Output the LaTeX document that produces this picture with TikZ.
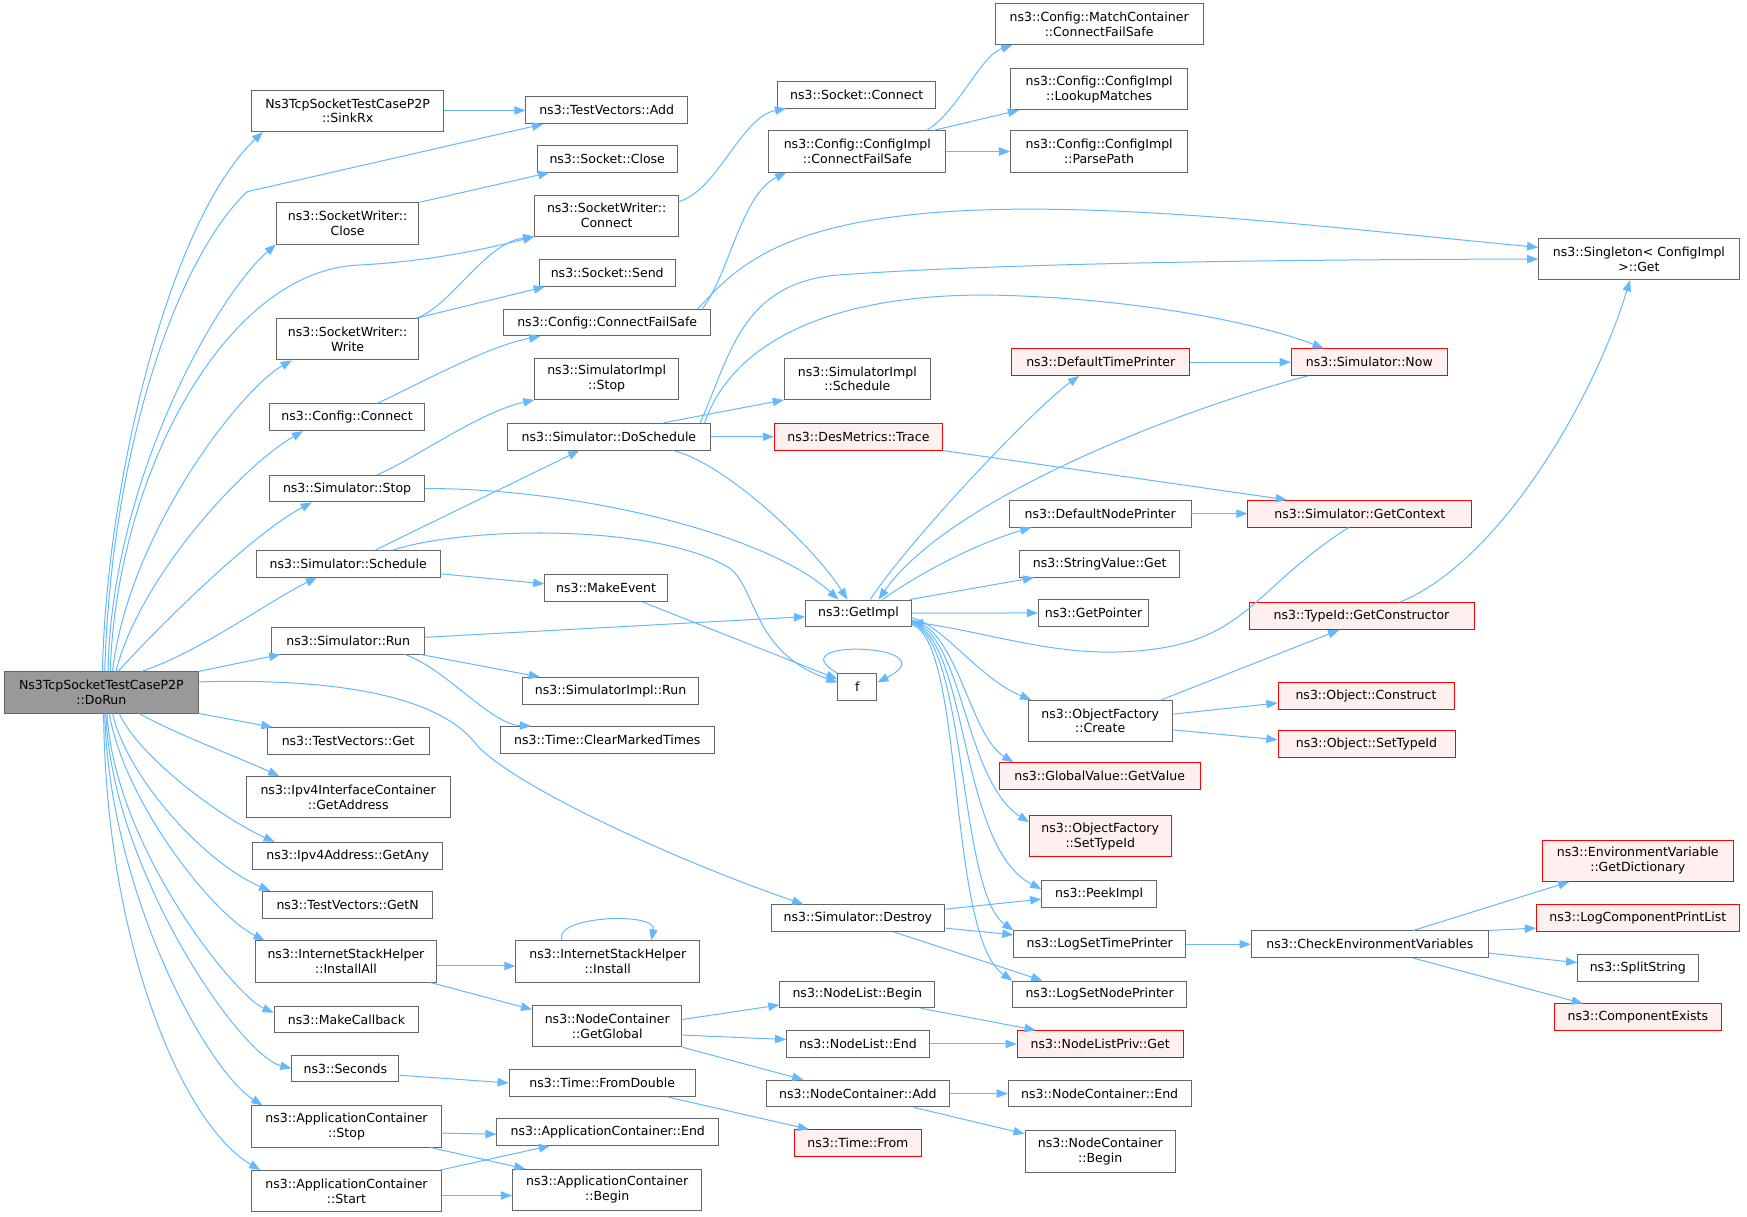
\documentclass[tikz,border=0pt]{standalone}
\usepackage{fontspec}
\setmainfont{DejaVu Sans}
\usetikzlibrary{arrows.meta}
\definecolor{edgeblue}{HTML}{63B8FF}
\definecolor{boxgray}{HTML}{666666}
\definecolor{rootgray}{HTML}{999999}
\definecolor{redfill}{HTML}{FFF0F0}
\tikzstyle{func} = [rectangle, draw=boxgray, fill=white, line width=0.8pt, inner xsep=3pt, inner ysep=0pt, minimum height=24, align=center, font=\fontsize{11.25}{13.3}\selectfont]
\tikzstyle{twoline} = [minimum height=37]
\tikzstyle{funcred} = [func, draw=red, fill=redfill]
\tikzstyle{root} = [func, fill=rootgray]
\tikzstyle{arrow} = [->, >={Triangle[length=10pt,width=7.5pt]}, draw=edgeblue, line width=0.9pt]
\begin{document}
\begin{tikzpicture}[x=1pt, y=-1pt]
    \useasboundingbox (0,0) rectangle (1568,1092);
    \node (doRun) [root, twoline, minimum width=174] at (91,621.5) {Ns3TcpSocketTestCaseP2P\\::DoRun};
    \node (sinkRx) [func, twoline, minimum width=172] at (312,99.5) {Ns3TcpSocketTestCaseP2P\\::SinkRx};
    \node (tvAdd) [func, minimum width=145] at (544.5,99) {ns3::TestVectors::Add};
    \node (swClose) [func, twoline, minimum width=128] at (312,200.5) {ns3::SocketWriter::\\Close};
    \node (sockClose) [func, minimum width=126] at (545,142.5) {ns3::Socket::Close};
    \node (swConnect) [func, twoline, minimum width=129] at (544.5,193.5) {ns3::SocketWriter::\\Connect};
    \node (sockSend) [func, minimum width=122] at (545,245) {ns3::Socket::Send};
    \node (swWrite) [func, twoline, minimum width=128] at (312,304.5) {ns3::SocketWriter::\\Write};
    \node (cfgCFS) [func, minimum width=186] at (545,289.5) {ns3::Config::ConnectFailSafe};
    \node (cfgConnect) [func, minimum width=139] at (311.5,374.5) {ns3::Config::Connect};
    \node (implStop) [func, twoline, minimum width=129] at (544.5,340) {ns3::SimulatorImpl\\::Stop};
    \node (simStop) [func, minimum width=139] at (311.5,438.5) {ns3::Simulator::Stop};
    \node (doSchedule) [func, minimum width=183] at (546.5,392) {ns3::Simulator::DoSchedule};
    \node (simSchedule) [func, minimum width=165] at (312.5,506) {ns3::Simulator::Schedule};
    \node (makeEvent) [func, minimum width=110] at (544,528) {ns3::MakeEvent};
    \node (simRun) [func, minimum width=137] at (312.5,575) {ns3::Simulator::Run};
    \node (implRun) [func, minimum width=158] at (548,620) {ns3::SimulatorImpl::Run};
    \node (clearTimes) [func, minimum width=192] at (545,664) {ns3::Time::ClearMarkedTimes};
    \node (tvGet) [func, minimum width=145] at (312.5,665) {ns3::TestVectors::Get};
    \node (ipv4Addr) [func, twoline, minimum width=183] at (312.5,715.5) {ns3::Ipv4InterfaceContainer\\::GetAddress};
    \node (getAny) [func, minimum width=170] at (312,768) {ns3::Ipv4Address::GetAny};
    \node (tvGetN) [func, minimum width=152] at (312,812) {ns3::TestVectors::GetN};
    \node (installAll) [func, twoline, minimum width=163] at (310.5,863) {ns3::InternetStackHelper\\::InstallAll};
    \node (makeCb) [func, minimum width=130] at (311,915) {ns3::MakeCallback};
    \node (seconds) [func, minimum width=96] at (310,959) {ns3::Seconds};
    \node (appStop) [func, twoline, minimum width=170] at (311,1011) {ns3::ApplicationContainer\\::Stop};
    \node (appStart) [func, twoline, minimum width=170] at (311,1069) {ns3::ApplicationContainer\\::Start};
    \node (install) [func, twoline, minimum width=165] at (545.5,863) {ns3::InternetStackHelper\\::Install};
    \node (getGlobal) [func, twoline, minimum width=134] at (545,921) {ns3::NodeContainer\\::GetGlobal};
    \node (fromDouble) [func, minimum width=167] at (540.5,972) {ns3::Time::FromDouble};
    \node (appEnd) [func, minimum width=199] at (545.5,1016) {ns3::ApplicationContainer::End};
    \node (appBegin) [func, twoline, minimum width=170] at (545,1068) {ns3::ApplicationContainer\\::Begin};
    \node (sockConnect) [func, minimum width=142] at (769,85) {ns3::Socket::Connect};
    \node (implCFS) [func, twoline, minimum width=159] at (769.5,136) {ns3::Config::ConfigImpl\\::ConnectFailSafe};
    \node (matchCFS) [func, twoline, minimum width=187] at (986.5,21.5) {ns3::Config::MatchContainer\\::ConnectFailSafe};
    \node (lookup) [func, twoline, minimum width=159] at (986.5,80) {ns3::Config::ConfigImpl\\::LookupMatches};
    \node (parsePath) [func, twoline, minimum width=159] at (986.5,136) {ns3::Config::ConfigImpl\\::ParsePath};
    \node (singleton) [func, twoline, minimum width=180] at (1471,232.5) {ns3::Singleton< ConfigImpl\\>::Get};
    \node (implSchedule) [func, twoline, minimum width=131] at (769.5,340) {ns3::SimulatorImpl\\::Schedule};
    \node (desTrace) [funcred, minimum width=151] at (770.5,392) {ns3::DesMetrics::Trace};
    \node (timePrinter) [funcred, minimum width=160] at (988,325) {ns3::DefaultTimePrinter};
    \node (simNow) [funcred, minimum width=140] at (1229,325) {ns3::Simulator::Now};
    \node (nodePrinter) [func, minimum width=163] at (987.5,461) {ns3::DefaultNodePrinter};
    \node (getContext) [funcred, minimum width=201] at (1220.5,461) {ns3::Simulator::GetContext};
    \node (strGet) [func, minimum width=144] at (987,506) {ns3::StringValue::Get};
    \node (getPointer) [func, minimum width=99] at (981.5,550) {ns3::GetPointer};
    \node (getImpl) [func, minimum width=95] at (770.5,550.5) {ns3::GetImpl};
    \node (f) [func, minimum width=35] at (769.5,616.5) {f};
    \node (getCtor) [funcred, minimum width=202] at (1222,553) {ns3::TypeId::GetConstructor};
    \node (ofCreate) [func, twoline, minimum width=129] at (987.5,647) {ns3::ObjectFactory\\::Create};
    \node (objConstruct) [funcred, minimum width=158] at (1226,624.5) {ns3::Object::Construct};
    \node (objSetTypeId) [funcred, minimum width=159] at (1226.5,668) {ns3::Object::SetTypeId};
    \node (gvGetValue) [funcred, minimum width=180] at (987,696.5) {ns3::GlobalValue::GetValue};
    \node (ofSetTypeId) [funcred, twoline, minimum width=127] at (987.5,750.5) {ns3::ObjectFactory\\::SetTypeId};
    \node (peekImpl) [func, minimum width=103] at (986.5,802.5) {ns3::PeekImpl};
    \node (simDestroy) [func, minimum width=156] at (770,824) {ns3::Simulator::Destroy};
    \node (logTime) [func, minimum width=154] at (987,847.5) {ns3::LogSetTimePrinter};
    \node (logNode) [func, minimum width=156] at (987,892.5) {ns3::LogSetNodePrinter};
    \node (checkEnv) [func, minimum width=213] at (1229.5,847.5) {ns3::CheckEnvironmentVariables};
    \node (getDict) [funcred, twoline, minimum width=172] at (1470,772.5) {ns3::EnvironmentVariable\\::GetDictionary};
    \node (printList) [funcred, minimum width=182] at (1470,824) {ns3::LogComponentPrintList};
    \node (splitString) [func, minimum width=108] at (1470,869) {ns3::SplitString};
    \node (compExists) [funcred, minimum width=150] at (1470,913) {ns3::ComponentExists};
    \node (nlBegin) [func, minimum width=139] at (769.5,892.5) {ns3::NodeList::Begin};
    \node (nlEnd) [func, minimum width=128] at (770,937) {ns3::NodeList::End};
    \node (nlprivGet) [funcred, minimum width=149] at (987.5,937) {ns3::NodeListPriv::Get};
    \node (ncAdd) [func, minimum width=164] at (770,981.5) {ns3::NodeContainer::Add};
    \node (ncEnd) [func, minimum width=164] at (987,981.5) {ns3::NodeContainer::End};
    \node (ncBegin) [func, twoline, minimum width=135] at (987.5,1033.5) {ns3::NodeContainer\\::Begin};
    \node (timeFrom) [funcred, minimum width=114] at (770,1026) {ns3::Time::From};
    \draw [arrow] ([xshift=1]doRun.north) .. controls (95,440) and (150,200) .. ([xshift=-76]sinkRx.south);
    \draw [arrow] ([xshift=3]doRun.north) .. controls (100,400) and (160,230) .. (222,172) -- ([xshift=-57]tvAdd.south);
    \draw [arrow] ([xshift=6]doRun.north) .. controls (100,430) and (195,265) .. (swClose.south west);
    \draw [arrow] ([xshift=8]doRun.north) .. controls (104,430) and (200,245) .. (320,238) .. controls (380,235) and (430,225) .. (swConnect.south west);
    \draw [arrow] ([xshift=10]doRun.north) .. controls (115,480) and (215,350) .. ([xshift=-50]swWrite.south);
    \draw [arrow] ([xshift=13]doRun.north) .. controls (125,520) and (215,420) .. ([xshift=-39.5]cfgConnect.south);
    \draw [arrow] ([xshift=15]doRun.north) .. controls (140,565) and (225,480) .. ([xshift=-31.5]simStop.south);
    \draw [arrow] ([xshift=36]doRun.north) .. controls (180,585) and (240,540) .. ([xshift=-28]simSchedule.south);
    \draw [arrow] (doRun.north east) -- ([xshift=8]simRun.south west);
    \draw [arrow] ([yshift=9.5]doRun.east) .. controls (320,608) and (395,630) .. (425,665) .. controls (450,700) and (600,770) .. ([xshift=-49]simDestroy.north);
    \draw [arrow] (doRun.south east) -- ([xshift=5]tvGet.north west);
    \draw [arrow] ([xshift=34]doRun.south) .. controls (160,660) and (215,680) .. ([xshift=30]ipv4Addr.north west);
    \draw [arrow] ([xshift=16]doRun.south) .. controls (125,680) and (200,735) .. ([xshift=20]getAny.north west);
    \draw [arrow] ([xshift=10]doRun.south) .. controls (115,700) and (185,775) .. ([xshift=7]tvGetN.north west);
    \draw [arrow] ([xshift=7]doRun.south) .. controls (112,720) and (190,820) .. ([xshift=9]installAll.north west);
    \draw [arrow] ([xshift=5]doRun.south) .. controls (103,760) and (210,893) .. ([yshift=6]makeCb.west);
    \draw [arrow] ([xshift=4]doRun.south) .. controls (100,780) and (215,947) .. (seconds.west);
    \draw [arrow] ([xshift=3]doRun.south) .. controls (98,800) and (185,960) .. ([xshift=10]appStop.north west);
    \draw [arrow] ([xshift=2]doRun.south) .. controls (95,850) and (165,1010) .. ([xshift=8]appStart.north west);
    \draw [arrow] (sinkRx) -- (tvAdd);
    \draw [arrow] (swClose.north east) -- ([xshift=-52]sockClose.south);
    \draw [arrow] ([xshift=-3]swWrite.north east) .. controls (405,275) and (435,218) .. (swConnect.south west);
    \draw [arrow] ([xshift=-3]swWrite.north east) -- ([xshift=-56]sockSend.south);
    \draw [arrow] ([yshift=12.5]swConnect.east) .. controls (645,170) and (665,105) .. ([xshift=8]sockConnect.south west);
    \draw [arrow] ([xshift=27]cfgConnect.north) .. controls (385,340) and (440,310) .. ([xshift=-60]cfgCFS.south);
    \draw [arrow] ([xshift=-8]cfgCFS.north east) .. controls (655,245) and (665,175) .. ([xshift=16]implCFS.south west);
    \draw [arrow] ([xshift=-12]cfgCFS.north east) .. controls (660,240) and (700,200) .. (850,190) .. controls (1000,180) and (1200,205) .. ([yshift=10.5]singleton.west);
    \draw [arrow] ([xshift=62]implCFS.north) .. controls (860,100) and (880,50) .. ([xshift=16]matchCFS.south west);
    \draw [arrow] ([xshift=68]implCFS.north) -- ([xshift=8]lookup.south west);
    \draw [arrow] (implCFS) -- (parsePath);
    \draw [arrow] ([xshift=27.5]simStop.north) .. controls (375,410) and (430,370) .. (implStop.south west);
    \draw [arrow] (simStop.east) .. controls (520,438) and (690,480) .. ([xshift=-18]getImpl.north);
    \draw [arrow] ([xshift=24.5]simSchedule.north) -- ([xshift=-26.5]doSchedule.south);
    \draw [arrow] ([yshift=-9]simSchedule.east) -- ([yshift=4]makeEvent.west);
    \draw [arrow] ([xshift=40.5]simSchedule.north) .. controls (420,472) and (590,470) .. (655,510) .. controls (680,530) and (675,585) .. ([yshift=4]f.west);
    \draw [arrow] ([xshift=33]makeEvent.south) -- ([yshift=7]f.west);
    \draw [arrow] ([yshift=3]simRun.east) -- ([yshift=-3]getImpl.west);
    \draw [arrow] ([xshift=-4]simRun.south east) -- ([xshift=16]implRun.north west);
    \draw [arrow] ([xshift=-18]simRun.south east) .. controls (400,600) and (440,650) .. ([xshift=28]clearTimes.north west);
    \draw [arrow] ([xshift=48.5]doSchedule.north) -- (implSchedule.south west);
    \draw [arrow] (doSchedule) -- (desTrace);
    \draw [arrow] ([xshift=57.5]doSchedule.south) .. controls (650,415) and (730,490) .. ([xshift=-10]getImpl.north);
    \draw [arrow] ([xshift=-10]doSchedule.north east) .. controls (655,320) and (665,255) .. (750,247) .. controls (900,236) and (1150,233) .. (singleton.west);
    \draw [arrow] ([xshift=-6]doSchedule.north east) .. controls (660,300) and (760,262) .. (897,265) .. controls (1020,268) and (1130,290) .. ([xshift=-41]simNow.north);
    \draw [arrow] (timePrinter) -- (simNow);
    \draw [arrow] ([xshift=10.5]getImpl.north) .. controls (820,480) and (930,365) .. ([xshift=-19.5]timePrinter.south);
    \draw [arrow] ([xshift=-55]simNow.south) .. controls (1050,370) and (850,450) .. ([xshift=18]getImpl.north);
    \draw [arrow] ([xshift=21.5]getImpl.north) .. controls (820,518) and (870,490) .. ([xshift=20]nodePrinter.south west);
    \draw [arrow] ([xshift=-2]getImpl.north east) -- ([xshift=13.5]strGet.south west);
    \draw [arrow] (getImpl) -- (getPointer);
    \draw [arrow] ([yshift=-4]getImpl.east) .. controls (845,560) and (880,610) .. ([xshift=3]ofCreate.north west);
    \draw [arrow] ([yshift=-6]getImpl.east) .. controls (860,565) and (870,660) .. ([xshift=13]gvGetValue.north west);
    \draw [arrow] ([yshift=-7]getImpl.east) .. controls (865,570) and (865,700) .. ([yshift=12.5]ofSetTypeId.west);
    \draw [arrow] ([yshift=-8]getImpl.east) .. controls (870,575) and (860,760) .. ([yshift=4.5]peekImpl.west);
    \draw [arrow] ([yshift=-9]getImpl.east) .. controls (868,575) and (860,800) .. (logTime.north west);
    \draw [arrow] ([yshift=-10]getImpl.east) .. controls (866,576) and (850,840) .. (logNode.north west);
    \draw [arrow] ([xshift=-10]getContext.south) .. controls (1130,525) and (1120,570) .. (1040,582) .. controls (960,594) and (900,570) .. ([yshift=-7.5]getImpl.east);
    \draw [arrow] (desTrace.south east) -- ([xshift=-65.5]getContext.north);
    \draw [arrow] (nodePrinter) -- (getContext);
    \draw [arrow] ([xshift=34]getCtor.north) .. controls (1345,505) and (1430,360) .. ([xshift=-8]singleton.south);
    \draw [arrow] ([xshift=-10]ofCreate.north east) -- ([xshift=-20]getCtor.south);
    \draw [arrow] ([yshift=6]ofCreate.east) -- ([yshift=-6.5]objConstruct.west);
    \draw [arrow] ([yshift=-8]ofCreate.east) -- ([yshift=4]objSetTypeId.west);
    \draw [arrow] ([yshift=8]simDestroy.east) -- ([yshift=-4.5]peekImpl.west);
    \draw [arrow] ([yshift=-9]simDestroy.east) -- ([yshift=8.5]logTime.west);
    \draw [arrow] ([xshift=32]simDestroy.south) -- ([xshift=27]logNode.north west);
    \draw [arrow] (logTime) -- (checkEnv);
    \draw [arrow] ([xshift=39]checkEnv.north) -- ([xshift=25]getDict.south west);
    \draw [arrow] (checkEnv.north east) -- ([yshift=-9]printList.west);
    \draw [arrow] ([yshift=-8]checkEnv.east) -- ([yshift=5]splitString.west);
    \draw [arrow] ([xshift=39]checkEnv.south) -- ([xshift=26]compExists.north west);
    \draw [arrow] ([yshift=6]getGlobal.east) -- ([yshift=-9.5]nlBegin.west);
    \draw [arrow] ([yshift=-8]getGlobal.east) -- ([yshift=4]nlEnd.west);
    \draw [arrow] (getGlobal.south east) -- ([xshift=-49]ncAdd.north);
    \draw [arrow] ([xshift=-13]nlBegin.south east) -- ([xshift=17]nlprivGet.north west);
    \draw [arrow] (nlEnd) -- (nlprivGet);
    \draw [arrow] (ncAdd) -- (ncEnd);
    \draw [arrow] ([xshift=50]ncAdd.south) -- ([yshift=-3]ncBegin.north west);
    \draw [arrow] ([yshift=-6]seconds.east) -- (fromDouble.west);
    \draw [arrow] ([xshift=58]fromDouble.south) -- ([xshift=-44]timeFrom.north);
    \draw [arrow] ([yshift=-6]appStop.east) -- ([yshift=-2]appEnd.west);
    \draw [arrow] ([xshift=-10]appStop.south east) -- ([xshift=12]appBegin.north west);
    \draw [arrow] ([xshift=-1]appStart.north east) -- ([xshift=48]appEnd.south west);
    \draw [arrow] ([yshift=-4]appStart.east) -- ([yshift=-5]appBegin.west);
    \draw [arrow] ([yshift=-4]installAll.east) -- ([yshift=-4]install.west);
    \draw [arrow] ([xshift=-6]installAll.south east) -- ([yshift=-4]getGlobal.north west);
    \draw [arrow] ([xshift=-41]install.north) .. controls (495,822) and (590,818) .. ([xshift=39]install.north);
    \draw [arrow] (f.north west) .. controls (695,572) and (855,578) .. ([yshift=4]f.east);
\end{tikzpicture}
\end{document}
